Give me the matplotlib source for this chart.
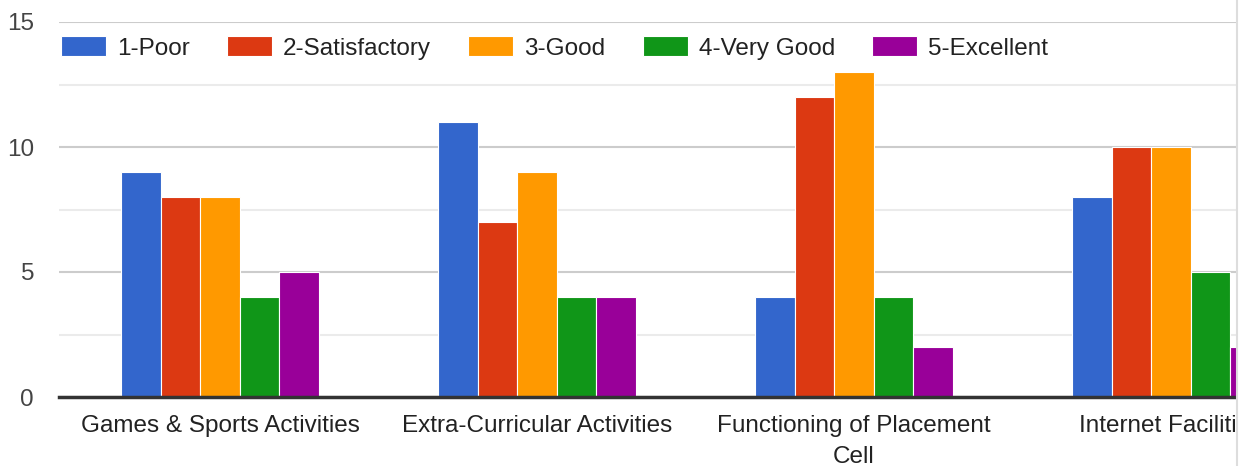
import matplotlib.pyplot as plt
import numpy as np
from matplotlib.patches import Rectangle

plt.rcParams['font.family'] = ['Liberation Sans', 'DejaVu Sans']

categories = ["Games & Sports Activities", "Extra-Curricular Activities",
              "Functioning of Placement\nCell", "Internet Facilities"]
ratings = ["1-Poor", "2-Satisfactory", "3-Good", "4-Very Good", "5-Excellent"]
poor = [9, 11, 4, 8]
satisfactory = [8, 7, 12, 10]
good = [8, 9, 13, 10]
very_good = [4, 4, 4, 5]
excellent = [5, 4, 2, 2]
colors = ["#3366cc", "#dc3912", "#ff9900", "#109618", "#990099"]

W, H = 1250, 466
fig = plt.figure(figsize=(W / 100, H / 100), dpi=100)
# plot area in pixels: x 59..1236, y 22..397 (from top)
ax = fig.add_axes([59 / W, (H - 397) / H, (1236 - 59) / W, 375 / H])

x = np.arange(len(categories))
bw = 0.1246
series = [poor, satisfactory, good, very_good, excellent]
for i, (vals, c, lab) in enumerate(zip(series, colors, ratings)):
    ax.bar(x + (i - 2) * bw, vals, bw, color=c, edgecolor="white", linewidth=0.8,
           label=lab, zorder=3)

ax.set_xlim(-0.508, 3.205)
ax.set_ylim(0, 15)
ax.set_yticks([0, 5, 10, 15])
ax.set_yticks([2.5, 7.5, 12.5], minor=True)
ax.grid(axis="y", which="major", color="#cccccc", linewidth=1.5, zorder=0)
ax.grid(axis="y", which="minor", color="#ebebeb", linewidth=1.5, zorder=0)
ax.axhline(0, color="#333333", linewidth=2.5, zorder=4, clip_on=False)
for s in ax.spines.values():
    s.set_visible(False)

ax.set_xticks(x)
ax.set_xticklabels(categories, fontsize=17.5, color="#222222", linespacing=1.55)
ax.tick_params(axis="x", length=0, pad=13)
ax.tick_params(axis="y", which="both", length=0, pad=18, labelsize=17.5, labelcolor="#444444")

fig.legend(loc="center left", bbox_to_anchor=(61 / W, 1 - 48 / H), ncol=5,
           frameon=False, fontsize=17.5, handlelength=1.85, handleheight=0.9,
           handletextpad=0.44, columnspacing=1.55, borderpad=0, borderaxespad=0,
           labelcolor="#222222")

# chart is cut off at the right edge
fig.add_artist(Rectangle((1237 / W, 0), 1, 1, transform=fig.transFigure,
                         facecolor="white", edgecolor="none", zorder=10))
fig.add_artist(plt.Line2D([1237 / W, 1237 / W], [0, 1], transform=fig.transFigure,
                          color="#dddddd", linewidth=1.5, zorder=11))

fig.savefig("out.png", dpi=100)
